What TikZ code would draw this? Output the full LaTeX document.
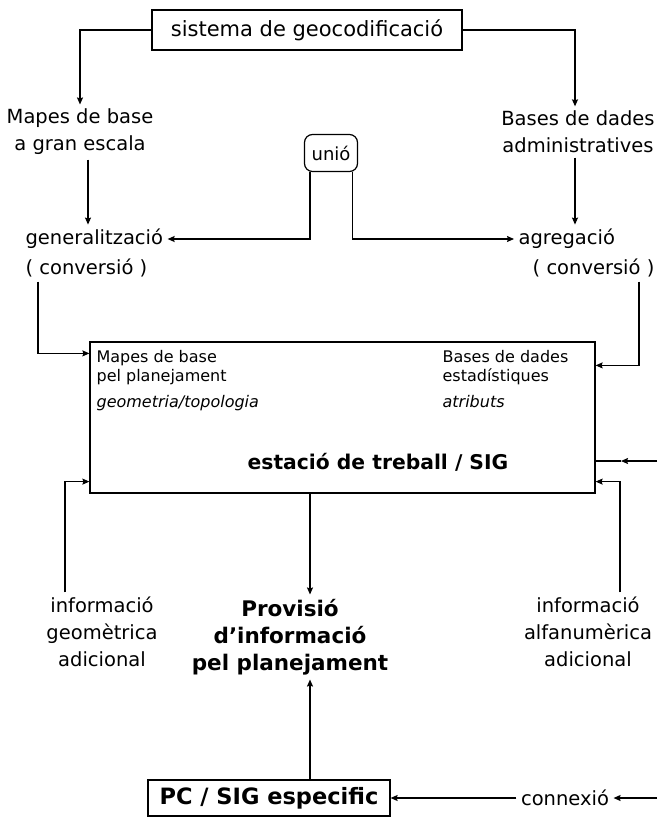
\documentclass[tikz,border=0pt]{standalone}
\usepackage{fontspec}
\setmainfont{DejaVu Sans}
\usetikzlibrary{arrows.meta}

\begin{document}
\begin{tikzpicture}[x=1pt,y=-1pt,line width=1.2pt,>={Stealth[length=7pt,width=6pt,inset=1pt]},
  txt/.style={font=\fontsize{19.5}{27}\selectfont,inner sep=4pt,align=center},
  intxt/.style={font=\fontsize{16}{19}\selectfont,inner sep=1pt,align=left},
  bold/.style={font=\fontsize{21.5}{27}\selectfont\bfseries,inner sep=4pt,align=center}]
\useasboundingbox (0,0) rectangle (657,822);

\node[draw,txt,font=\fontsize{21}{27}\selectfont,minimum width=310pt,minimum height=40pt] (geo) at (307,30) {sistema de geocodificació};
\node[txt] (mapes) at (80,132) {Mapes de base\\a gran escala};
\node[txt] (bases) at (578,132) {Bases de dades\\administratives};
\node[draw,rounded corners=8pt,minimum width=53pt,minimum height=37pt,font=\fontsize{18}{20}\selectfont] (unio) at (331,153) {unió};
\node[txt,anchor=west] (gen) at (21,239) {generalització};
\node[txt,anchor=west] (conv1) at (21,268) {( conversió )};
\node[txt,anchor=west] (agr) at (514,239) {agregació};
\node[txt,anchor=east] (conv2) at (659,268) {( conversió )};

\node[draw,minimum width=505pt,minimum height=151pt] (sig) at (342.5,417.5) {};
\node[intxt,anchor=north west] (mapesb) at (95,349) {Mapes de base\\pel planejament};
\node[intxt,anchor=north west,font=\fontsize{16}{19}\selectfont\itshape] (geom) at (95,394) {geometria/topologia};
\node[intxt,anchor=north west] (basesb) at (441,349) {Bases de dades\\estadístiques};
\node[intxt,anchor=north west,font=\fontsize{16}{19}\selectfont\itshape] (atr) at (441,394) {atributs};
\node[bold,font=\fontsize{20.3}{22}\selectfont\bfseries] (est) at (378,462) {estació de treball / SIG};

\node[txt] (info1) at (102,632) {informació\\geomètrica\\adicional};
\node[txt] (info2) at (588,632) {informació\\alfanumèrica\\adicional};
\node[bold] (prov) at (290,637) {Provisió\\d'informació\\pel planejament};
\node[draw,bold,font=\fontsize{22.5}{27}\selectfont\bfseries,minimum width=242pt,minimum height=36pt] (pc) at (269,798) {PC / SIG especific};
\node[txt] (conn) at (565,798) {connexió};
\coordinate (in3) at (657,461);
\coordinate (mid3) at (621,461);
\coordinate (in4) at (657,798);

\draw[->] (geo.west) -| (mapes.north);
\draw[->] (geo.east) -| ([xshift=-3pt]bases.north);
\draw[->] ([xshift=8pt]mapes.south) -- ([xshift=8pt]mapes.south |- gen.north);
\draw[->] ([xshift=-3pt]bases.south) -- ([xshift=-3pt]bases.south |- agr.north);
\draw[->] ([xshift=6pt]unio.south west) |- (gen.east);
\draw[->] ([xshift=-6pt]unio.south east) |- (agr.west);
\draw[->] ([xshift=17pt]conv1.south west) |- ([yshift=-12pt]sig.north west);
\draw[->] ([xshift=-20pt]conv2.south east) |- ([yshift=-24pt]sig.north east);
\draw[->] (in3) -- (mid3);
\draw (mid3) -- (mid3 -| sig.east);
\draw[->] ([xshift=-37pt]info1.north) |- ([yshift=12pt]sig.south west);
\draw[->] ([xshift=32pt]info2.north) |- ([yshift=12pt]sig.south east);
\draw[->] ([xshift=20pt]prov.north |- sig.south) -- ([xshift=20pt]prov.north);
\draw[->] ([xshift=20pt]prov.south |- pc.north) -- ([xshift=20pt]prov.south);
\draw[->] (conn.west) -- (pc.east);
\draw[->] (in4) -- (conn.east);
\end{tikzpicture}
\end{document}
